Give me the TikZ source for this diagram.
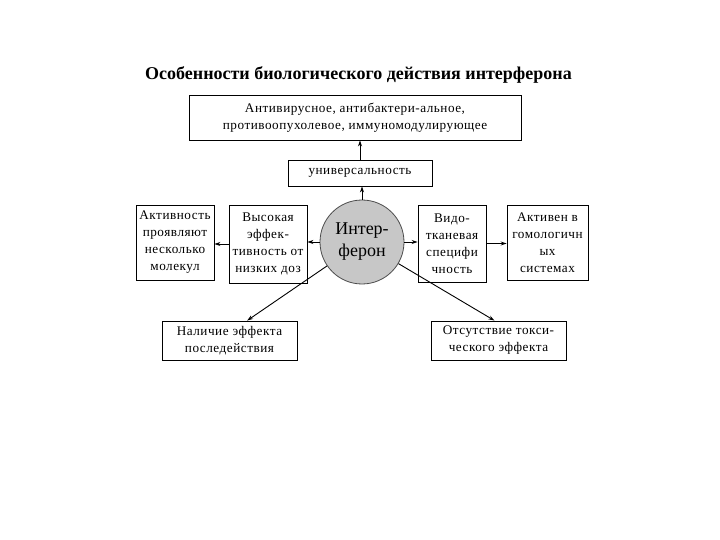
\documentclass[tikz,border=0pt]{standalone}
\usepackage{fontspec}
\setmainfont{Liberation Serif}
\newfontfamily\boxfont[LetterSpace=4]{Liberation Serif}
\usetikzlibrary{arrows.meta,calc}
\begin{document}
\begin{tikzpicture}[x=1pt,y=-1pt,
  box/.style={draw=black,line width=0.9pt,fill=white,inner sep=0pt,align=center,
    font=\boxfont\fontsize{13.2}{17}\selectfont},
  arr/.style={draw=black,line width=0.9pt,-{Stealth[length=6pt,width=4pt]}},
  hub/.style={circle,draw=black!70,line width=0.8pt,fill=black!22,inner sep=0pt,
    minimum size=84pt,align=center,font=\fontsize{18}{22}\selectfont}]
\useasboundingbox (0,0) rectangle (720,540);
\node (title) at (358.5,75) {\fontsize{18}{22}\selectfont\bfseries Особенности биологического действия интерферона};
\node[box,minimum width=332pt,minimum height=45pt] (top) at (355,117.5)
  {Антивирусное, антибактери-альное,\\противоопухолевое, иммуномодулирующее};
\node[box,minimum width=144pt,minimum height=26pt] (univ) at (360,173) {\raisebox{-2.5pt}{универсальность}};
\node[hub] (c) at (362,242) {Интер-\\ферон};
\node[box,minimum width=78pt,minimum height=75pt] (b1) at (175,242.5)
  {Активность\\проявляют\\несколько\\молекул};
\node[box,minimum width=78pt,minimum height=78pt] (b2) at (268,244)
  {Высокая\\эффек-\\тивность от\\низких доз};
\node[box,minimum width=68pt,minimum height=77pt] (b3) at (452,243.5)
  {Видо-\\тканевая\\специфи\\чность};
\node[box,minimum width=81pt,minimum height=75pt] (b4) at (547.5,242.5)
  {Активен в\\гомологичн\\ых\\системах};
\node[box,minimum width=135pt,minimum height=39pt] (bl) at (229.5,340.5)
  {Наличие эффекта\\последействия};
\node[box,minimum width=135pt,minimum height=39pt] (br) at (498.5,340.5)
  {Отсутствие токси-\\ческого эффекта};
\coordinate (blt) at ($(bl.north west)!0.63!(bl.north east)$);
\coordinate (brt) at ($(br.north west)!0.47!(br.north east)$);
\draw[arr] (c.north) -- (c.north |- univ.south);
\draw[arr] (univ.north) -- (univ.north |- top.south);
\draw[arr] (c.west) -- (c.west -| b2.east);
\draw[arr] (b2.west) -- (b2.west -| b1.east);
\draw[arr] (c.east) -- (c.east -| b3.west);
\draw[arr] (b3.east) -- (b3.east -| b4.west);
\draw[arr] (c) -- (blt);
\draw[arr] (c) -- (brt);
\end{tikzpicture}
\end{document}
